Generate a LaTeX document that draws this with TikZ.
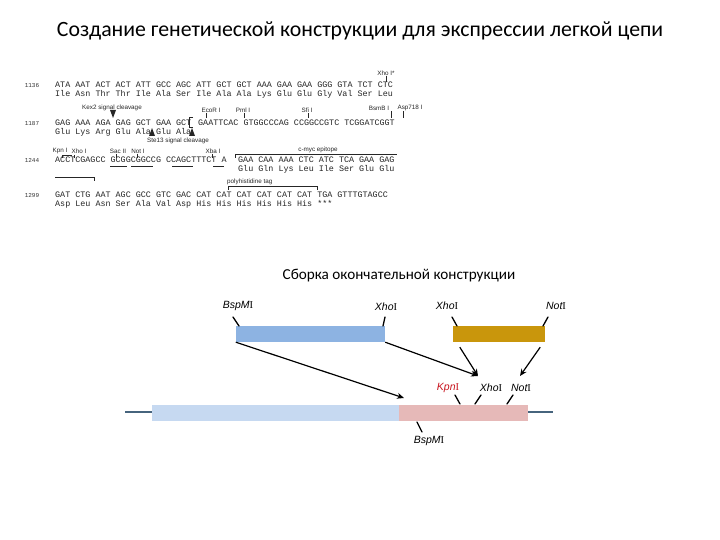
\documentclass[tikz,border=0pt]{standalone}
\usepackage{fontspec}
\setmainfont{Carlito}
\newfontfamily\seqfont{Liberation Mono}
\newfontfamily\lblfont{Liberation Sans}
\newfontfamily\romfont{Liberation Serif}
\usetikzlibrary{arrows.meta,calc}
\definecolor{fragblue}{RGB}{141,179,226}
\definecolor{fraggold}{RGB}{201,150,12}
\definecolor{vecblue}{RGB}{198,217,241}
\definecolor{vecpink}{RGB}{230,185,184}
\definecolor{vecline}{RGB}{70,100,125}
\definecolor{kpnred}{RGB}{200,20,30}
\newcommand{\enz}[1]{{\lblfont\itshape #1}{\romfont I}}
\tikzset{
  nt/.style={anchor=base west,inner sep=0pt,text=black!85,
    font=\seqfont\fontsize{8.4}{9}\selectfont},
  seqpos/.style={anchor=base,inner sep=0pt,text=black!80,
    font=\seqfont\fontsize{6}{7}\selectfont},
  site/.style={inner sep=0pt,text=black!85,
    font=\lblfont\fontsize{6.3}{7}\selectfont},
  tick/.style={black!85,line width=0.5pt},
  bar/.style={draw=none,inner sep=0pt,minimum height=16pt},
  enzlabel/.style={inner sep=1pt,font=\fontsize{10.5}{12}\selectfont},
  cut/.style={line width=1.3pt,line cap=round},
  arr/.style={line width=1.2pt,-{Stealth[length=7pt,width=6pt]}}
}
\begin{document}
\begin{tikzpicture}[x=1pt,y=-1pt]
  \useasboundingbox (0,0) rectangle (720,540);
  % title
  \node[font=\fontsize{21.8}{26}\selectfont] (title) at (360,31)
    {Создание генетической конструкции для экспрессии легкой цепи};

  % sequence, row 1
  \node[site] (sXhoS) at (386,73) {Xho I*};
  \draw[tick] (sXhoS.south) -- ++(0,6);
  \node[seqpos] (p1) at (32,88) {1136};
  \node[nt] (r1) at (55,88) {ATA AAT ACT ACT ATT GCC AGC ATT GCT GCT AAA GAA GAA GGG GTA TCT CTC};
  \node[nt] (a1) at (55,97) {Ile Asn Thr Thr Ile Ala Ser Ile Ala Ala Lys Glu Glu Gly Val Ser Leu};

  % sequence, row 2
  \node[site] (sKex) at (112,108) {Kex2 signal cleavage};
  \fill[black!85] (110,110) -- (116,110) -- (113,118) -- cycle;
  \node[site] (sEco) at (211,110) {EcoR I};
  \draw[tick] (206,113) -- (206,118);
  \node[site] (sPml) at (243,110) {Pml I};
  \draw[tick] (244,113) -- (244,118);
  \node[site] (sSfi) at (307,110) {Sfi I};
  \draw[tick] (308,113) -- (308,118);
  \node[site] (sBsm) at (379,108) {BsmB I};
  \node[site] (sAsp) at (410,108) {Asp718 I};
  \draw[tick] (391,111) -- (391,118);
  \draw[tick] (403,111) -- (403,118);
  \node[seqpos] (p2) at (32,126) {1187};
  \node[nt] (r2) at (55,126) {GAG AAA AGA GAG GCT GAA GCT};
  \node[nt] (m2) at (198,126) {GAATTCAC  GTGGCCCAG   CCGGCCGTC   TCGGATCGGT};
  \node[nt] (a2) at (55,135) {Glu Lys Arg Glu Ala Glu Ala};
  \draw[tick] (193,117) -- (189,117) -- (189,127) -- (193,127);
  \fill[black!85] (149,136) -- (155,136) -- (152,128) -- cycle;
  \fill[black!85] (189,136) -- (195,136) -- (192,128) -- cycle;
  \node[site] (sSte) at (178,141) {Ste13 signal cleavage};

  % sequence, row 3
  \node[site] (sKpn) at (60,151) {Kpn I};
  \node[site] (sXho) at (79,151) {Xho I};
  \draw[tick] (62,158) -- (62,155) -- (72,155);
  \draw[tick] (74,155) -- (74,158);
  \node[site] (sSac) at (118,151) {Sac II};
  \draw[tick] (116,154) -- (116,158);
  \node[site] (sNot) at (138,151) {Not I};
  \draw[tick] (137,154) -- (137,158);
  \node[site] (sXba) at (213,151) {Xba I};
  \draw[tick] (212,154) -- (212,158);
  \node[site] (sMyc) at (318,150) {c-myc epitope};
  \draw[tick] (235,158) -- (235,154) -- (397,154);
  \node[seqpos] (p3) at (32,163) {1244};
  \node[nt] (r3) at (55,163) {ACCTCGAGCC GCGGCGGCCG CCAGCTTTCT A};
  \node[nt] (m3) at (238,163) {GAA CAA AAA CTC ATC TCA GAA GAG};
  \node[nt] (a3) at (238,172) {Glu Gln Lys Leu Ile Ser Glu Glu};
  \draw[tick] (110,166) -- (127,166) (131,166) -- (153,166)
    (172,166) -- (193,166) (213,166) -- (224,166);

  % sequence, row 4
  \draw[tick] (55,177) -- (94,177) -- (94,181);
  \node[site,anchor=west] (sHis) at (227,182) {polyhistidine tag};
  \draw[tick] (228,190) -- (228,186) -- (317,186) -- (317,190);
  \node[seqpos] (p4) at (32,198) {1299};
  \node[nt] (r4) at (55,198) {GAT CTG AAT AGC GCC GTC GAC CAT CAT CAT CAT CAT CAT TGA GTTTGTAGCC};
  \node[nt] (a4) at (55,207) {Asp Leu Asn Ser Ala Val Asp His His His His His His ***};

  % assembly
  \node[font=\fontsize{15.2}{18}\selectfont] (subtitle) at (399,276)
    {Сборка окончательной конструкции};
  \node[bar,fill=fragblue,minimum width=149pt] (frA) at (310.5,334) {};
  \node[bar,fill=fraggold,minimum width=92pt] (frB) at (499,334) {};
  \node[enzlabel] (bsp1) at (238,306) {\enz{BspM}};
  \node[enzlabel] (xho1) at (386,307) {\enz{Xho}};
  \node[enzlabel] (xho2) at (447,306) {\enz{Xho}};
  \node[enzlabel] (not1) at (556,306) {\enz{Not}};
  \draw[cut] (233,317) -- (239,326);
  \draw[cut] (385,317) -- (383,326);
  \draw[cut] (452,317) -- (457,326);
  \draw[cut] (548,317) -- (543,326);

  \coordinate (bbL) at (125,412);
  \coordinate (bbR) at (553,412);
  \draw[vecline,line width=1.2pt] (bbL) -- (bbR);
  \node[bar,fill=vecblue,minimum width=247pt] (vecA) at (275.5,413) {};
  \node[bar,fill=vecpink,minimum width=129pt] (vecB) at (463.5,413) {};
  \node[enzlabel,text=kpnred] (kpn) at (448,388) {\enz{Kpn}};
  \node[enzlabel] (xho3) at (491,388) {\enz{Xho}};
  \node[enzlabel] (not2) at (521,388) {\enz{Not}};
  \node[enzlabel] (bsp2) at (429,441) {\enz{BspM}};
  \draw[cut] (455,395) -- (460,404);
  \draw[cut] (481,395) -- (475,404);
  \draw[cut] (513,395) -- (507,404);
  \draw[cut] (417,422) -- (422,432);

  % arrows
  \coordinate (tipB) at (404,398);
  \coordinate (tipX) at (478,376);
  \coordinate (tipN) at (520,376);
  \draw[arr] (frA.south west) -- (tipB);
  \draw[arr] (frA.south east) -- (tipX);
  \draw[arr] ($(frB.south west)+(7,5)$) -- (tipX);
  \draw[arr] ($(frB.south east)+(-5,5)$) -- (tipN);
\end{tikzpicture}
\end{document}
